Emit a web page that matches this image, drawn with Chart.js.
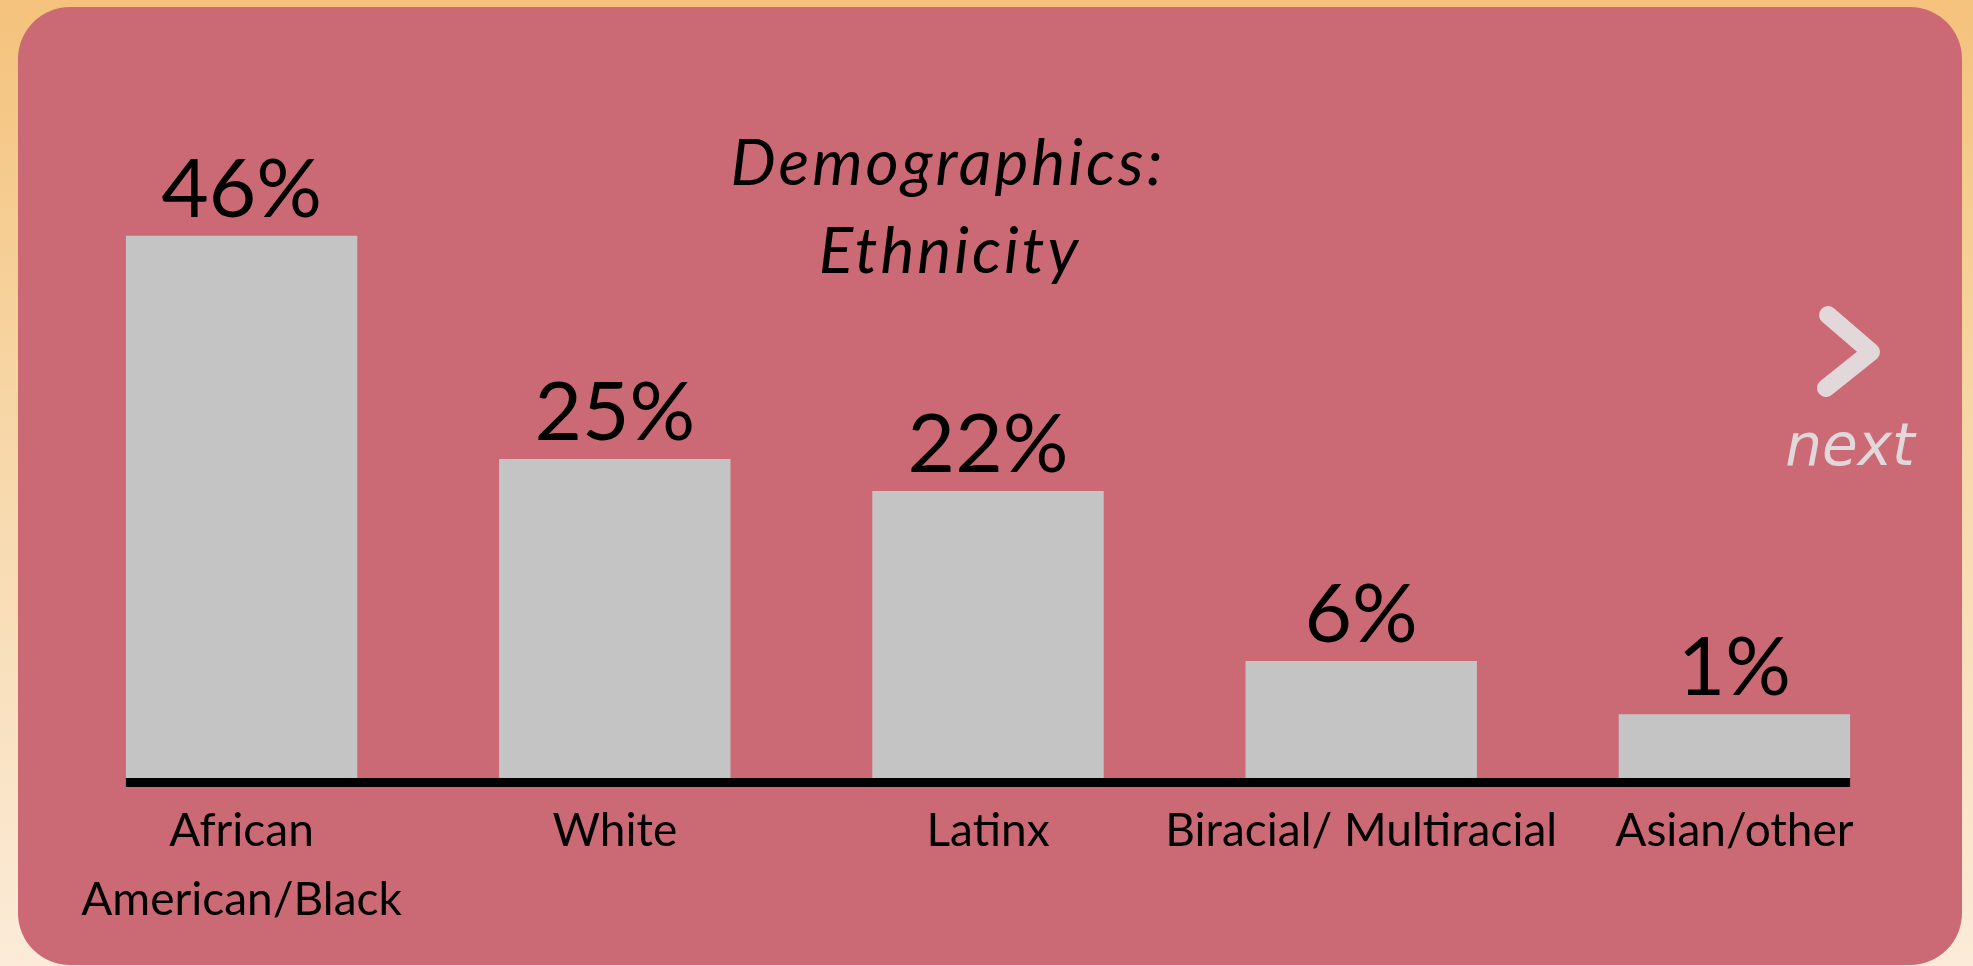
<!DOCTYPE html>
<html>
<head>
<meta charset="utf-8">
<script src="https://cdn.jsdelivr.net/npm/chart.js@4.4.1/dist/chart.umd.min.js"></script>
<style>
  html, body { margin: 0; padding: 0; }
  body {
    width: 1973px; height: 966px; overflow: hidden; position: relative;
    background: linear-gradient(180deg, #f4c27c 0%, #f7d7a8 45%, #fbebd8 100%);
  }
  .card {
    position: absolute; left: 18px; top: 7px; width: 1944px; height: 958px;
    background: #cb6a74; border-radius: 52px;
  }
  .wrap { position: absolute; left: 0; top: 0; width: 1973px; height: 966px; }
</style>
</head>
<body>
<div class="card"></div>
<div class="wrap"><canvas id="ethChart" width="1973" height="966"></canvas></div>
<script>
const categories = [['African', 'American/Black'], 'White', 'Latinx', 'Biracial/ Multiracial', 'Asian/other'];
const percents = [46, 25, 22, 6, 1];
const titleLines = ['Demographics:', 'Ethnicity'];
const yMin = -5;
const yMax = 60;

const FONT = 'Lato, "Noto Sans", sans-serif';

// black baseline under the bars, only as wide as the bars
const axisLine = {
  id: 'axisLine',
  afterDatasetsDraw(chart) {
    const bars = chart.getDatasetMeta(0).data;
    const first = bars[0], last = bars[bars.length - 1];
    const y = chart.scales.y.getPixelForValue(yMin);
    const ctx = chart.ctx;
    ctx.save();
    ctx.fillStyle = '#000';
    ctx.fillRect(first.x - first.width / 2, y, (last.x + last.width / 2) - (first.x - first.width / 2), 9);
    ctx.restore();
  }
};

const valueLabels = {
  id: 'valueLabels',
  afterDatasetsDraw(chart) {
    const ctx = chart.ctx;
    ctx.save();
    ctx.font = '82px ' + FONT;
    ctx.fillStyle = '#000';
    ctx.textAlign = 'center';
    ctx.textBaseline = 'alphabetic';
    chart.getDatasetMeta(0).data.forEach((bar, i) => {
      ctx.fillText(percents[i] + '%', bar.x, bar.y - 19);
    });
    ctx.restore();
  }
};

const titleAndNext = {
  id: 'titleAndNext',
  afterDraw(chart) {
    const ctx = chart.ctx;
    ctx.save();
    ctx.fillStyle = '#000';
    ctx.textAlign = 'center';
    ctx.textBaseline = 'alphabetic';
    ctx.font = 'italic 64px ' + FONT;
    ctx.letterSpacing = '3px';
    ctx.fillText(titleLines[0], 948, 185);
    ctx.fillText(titleLines[1], 950, 273);
    ctx.letterSpacing = '0px';

    // "next" arrow
    ctx.strokeStyle = '#e2d8da';
    ctx.lineWidth = 18;
    ctx.lineCap = 'round';
    ctx.lineJoin = 'round';
    ctx.beginPath();
    ctx.moveTo(1828, 315);
    ctx.lineTo(1871, 352);
    ctx.lineTo(1826, 388);
    ctx.stroke();
    ctx.fillStyle = '#e2d8da';
    ctx.font = 'italic 58px "DejaVu Sans", sans-serif';
    ctx.fillText('next', 1850, 465);
    ctx.restore();
  }
};

new Chart(document.getElementById('ethChart'), {
  type: 'bar',
  data: {
    labels: categories,
    datasets: [{
      data: percents,
      base: yMin,
      backgroundColor: '#c4c4c4',
      borderWidth: 0,
      barPercentage: 0.62,
      categoryPercentage: 1
    }]
  },
  options: {
    responsive: false,
    animation: false,
    devicePixelRatio: 1,
    layout: { padding: { top: 87, left: 55, right: 52, bottom: 0 } },
    plugins: {
      legend: { display: false },
      title: { display: false },
      tooltip: { enabled: false }
    },
    scales: {
      y: { display: false, min: yMin, max: yMax },
      x: {
        grid: { display: false, drawTicks: false },
        border: { display: false },
        ticks: {
          color: '#000',
          font: { family: FONT, size: 46, lineHeight: 1.5 },
          padding: 19,
          maxRotation: 0,
          autoSkip: false
        },
        afterFit(scale) { scale.height = 188; }
      }
    }
  },
  plugins: [axisLine, valueLabels, titleAndNext]
});
</script>
</body>
</html>
